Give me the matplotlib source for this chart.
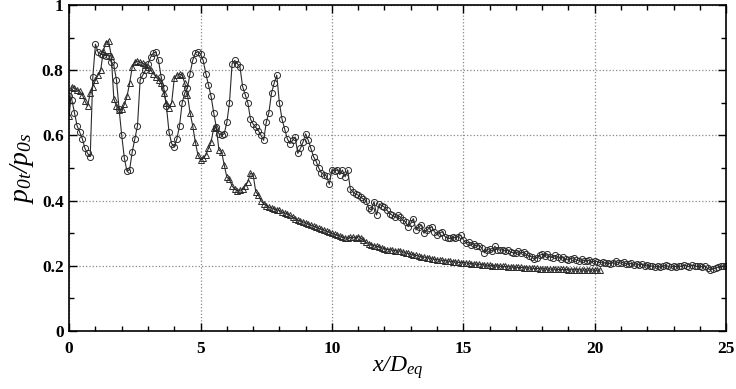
import numpy as np
import matplotlib
matplotlib.use('Agg')
import matplotlib.pyplot as plt
from matplotlib.ticker import MultipleLocator

plt.rcParams['font.family'] = 'Liberation Serif'
plt.rcParams['mathtext.fontset'] = 'custom'
plt.rcParams['mathtext.it'] = 'Liberation Serif:italic'
plt.rcParams['mathtext.rm'] = 'Liberation Serif:italic'

# circulos: x/Deq de 0 a 25, paso 0.1
x_circ = np.round(np.arange(0, 25.01, 0.1), 2)
y_circ = [
    0.72, 0.71, 0.67, 0.63, 0.61, 0.59, 0.56, 0.545, 0.535, 0.78,
    0.88, 0.855, 0.85, 0.847, 0.845, 0.845, 0.825, 0.815, 0.77, 0.68,
    0.60, 0.53, 0.49, 0.495, 0.55, 0.59, 0.63, 0.77, 0.785, 0.80,
    0.82, 0.84, 0.853, 0.855, 0.83, 0.78, 0.745, 0.69, 0.61, 0.575,
    0.565, 0.59, 0.63, 0.70, 0.73, 0.745, 0.79, 0.83, 0.853, 0.857,
    0.85, 0.83, 0.79, 0.755, 0.72, 0.67, 0.625, 0.605, 0.60, 0.605,
    0.64, 0.70, 0.82, 0.83, 0.82, 0.81, 0.75, 0.725, 0.70, 0.65,
    0.635, 0.625, 0.615, 0.60, 0.585, 0.64, 0.67, 0.73, 0.76, 0.785,
    0.70, 0.65, 0.62, 0.59, 0.575, 0.585, 0.595, 0.545, 0.56, 0.58,
    0.605, 0.585, 0.56, 0.535, 0.52, 0.50, 0.485, 0.48, 0.475, 0.45,
    0.495, 0.49, 0.495, 0.48, 0.494, 0.473, 0.494, 0.435, 0.427, 0.42,
    0.417, 0.41, 0.405, 0.40, 0.376, 0.372, 0.397, 0.356, 0.39, 0.385,
    0.38, 0.37, 0.36, 0.355, 0.35, 0.355, 0.35, 0.34, 0.335, 0.32,
    0.33, 0.345, 0.31, 0.32, 0.325, 0.30, 0.31, 0.315, 0.32, 0.305,
    0.295, 0.30, 0.305, 0.29, 0.285, 0.284, 0.29, 0.285, 0.29, 0.294,
    0.28, 0.27, 0.272, 0.265, 0.268, 0.26, 0.262, 0.255, 0.24, 0.25,
    0.252, 0.245, 0.26, 0.25, 0.248, 0.25, 0.245, 0.248, 0.242, 0.24,
    0.238, 0.245, 0.24, 0.242, 0.235, 0.23, 0.228, 0.22, 0.225, 0.232,
    0.236, 0.23, 0.235, 0.228, 0.225, 0.232, 0.228, 0.222, 0.226, 0.22,
    0.218, 0.222, 0.225, 0.218, 0.215, 0.22, 0.216, 0.214, 0.218, 0.212,
    0.215, 0.213, 0.21, 0.212, 0.208, 0.21, 0.206, 0.21, 0.214, 0.21,
    0.208, 0.212, 0.206, 0.205, 0.208, 0.204, 0.207, 0.202, 0.205, 0.20,
    0.203, 0.198, 0.20, 0.196, 0.20, 0.195, 0.198, 0.202, 0.198, 0.196,
    0.20, 0.197, 0.20, 0.198, 0.202, 0.20, 0.197, 0.202, 0.20, 0.198,
    0.20, 0.196, 0.198, 0.192, 0.188, 0.19, 0.194, 0.196, 0.198, 0.20,
    0.198,
]

# triangulos: x/Deq de 0 a 20.2, paso 0.1
x_tri = np.round(np.arange(0, 20.21, 0.1), 2)
y_tri = [
    0.66, 0.75, 0.745, 0.74, 0.735, 0.725, 0.705, 0.69, 0.73, 0.75,
    0.77, 0.785, 0.80, 0.86, 0.885, 0.89, 0.845, 0.712, 0.69, 0.678,
    0.68, 0.695, 0.72, 0.76, 0.81, 0.826, 0.828, 0.825, 0.822, 0.815,
    0.81, 0.80, 0.79, 0.78, 0.77, 0.76, 0.73, 0.70, 0.685, 0.70,
    0.775, 0.785, 0.788, 0.785, 0.76, 0.725, 0.67, 0.63, 0.58, 0.54,
    0.525, 0.53, 0.54, 0.56, 0.58, 0.622, 0.625, 0.555, 0.55, 0.51,
    0.472, 0.465, 0.445, 0.435, 0.43, 0.432, 0.435, 0.445, 0.458, 0.484,
    0.48, 0.428, 0.417, 0.40, 0.39, 0.385, 0.38, 0.378, 0.375, 0.372,
    0.37, 0.365, 0.362, 0.36, 0.355, 0.35, 0.345, 0.34, 0.338, 0.335,
    0.332, 0.328, 0.325, 0.322, 0.318, 0.315, 0.312, 0.31, 0.306, 0.303,
    0.30, 0.297, 0.294, 0.292, 0.288, 0.286, 0.285, 0.287, 0.288, 0.285,
    0.29, 0.286, 0.278, 0.272, 0.268, 0.265, 0.262, 0.26, 0.258, 0.255,
    0.253, 0.25, 0.25, 0.248, 0.247, 0.245, 0.246, 0.243, 0.24, 0.238,
    0.236, 0.234, 0.232, 0.23, 0.228, 0.227, 0.225, 0.224, 0.222, 0.22,
    0.219, 0.218, 0.217, 0.216, 0.215, 0.214, 0.213, 0.212, 0.211, 0.21,
    0.21, 0.209, 0.208, 0.207, 0.206, 0.205, 0.205, 0.204, 0.203, 0.202,
    0.202, 0.201, 0.20, 0.20, 0.199, 0.198, 0.198, 0.197, 0.197, 0.196,
    0.196, 0.195, 0.195, 0.194, 0.194, 0.193, 0.193, 0.192, 0.192, 0.191,
    0.191, 0.191, 0.19, 0.19, 0.19, 0.19, 0.189, 0.189, 0.189, 0.189,
    0.188, 0.188, 0.188, 0.188, 0.188, 0.187, 0.187, 0.187, 0.187, 0.187,
    0.187, 0.187, 0.187,
]

fig = plt.figure(figsize=(7.36, 3.89), dpi=100)
ax = fig.add_axes([0.094, 0.149, 0.8925, 0.838])

ax.plot(x_circ, y_circ, '-', color='#2b2b2b', lw=0.8, marker='o', ms=4.4,
        mfc='none', mec='#2b2b2b', mew=0.7)
ax.plot(x_tri, y_tri, '-', color='#2b2b2b', lw=0.8, marker='^', ms=4.4,
        mfc='none', mec='#2b2b2b', mew=0.7)

ax.set_xlim(0, 25)
ax.set_ylim(0, 1)
ax.xaxis.set_major_locator(MultipleLocator(5))
ax.xaxis.set_minor_locator(MultipleLocator(1))
ax.yaxis.set_minor_locator(MultipleLocator(0.1))
ax.set_yticks([0, 0.2, 0.4, 0.6, 0.8, 1])
ax.set_yticklabels(['0', '0.2', '0.4', '0.6', '0.8', '1'])

ax.tick_params(which='both', direction='in', top=True, right=True, width=1)
ax.tick_params(which='major', length=6, labelsize=12.5)
ax.tick_params(which='minor', length=3.5)
ax.tick_params(axis='x', pad=7)
ax.tick_params(axis='y', pad=4)
for lab in ax.get_xticklabels() + ax.get_yticklabels():
    lab.set_fontweight('bold')

for sp in ax.spines.values():
    sp.set_linewidth(1.2)

ax.grid(True, which='major', linestyle=':', color='#888888', lw=0.9)

ax.set_xlabel('$x/D_{eq}$', fontsize=17, labelpad=-2)
ax.set_ylabel('$p_{0t}/p_{0s}$', fontsize=20, labelpad=4)

fig.savefig('out.png', dpi=100)
